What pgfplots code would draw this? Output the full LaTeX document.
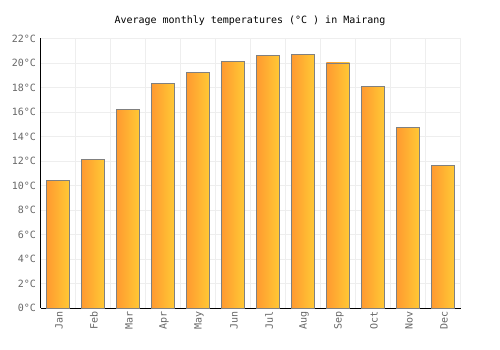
\documentclass[border=0pt]{standalone}
\usepackage{fontspec}
\setmainfont{DejaVu Sans Mono}
\setmonofont{DejaVu Sans Mono}
\usepackage{pgfplots}
\pgfplotsset{compat=1.18}
\definecolor{barL}{HTML}{FF9A30}
\definecolor{barR}{HTML}{FFC935}
\definecolor{gridc}{HTML}{EEEEEE}
\definecolor{labc}{HTML}{666666}
\tikzset{mybar/.style={draw=gray, line width=0.9pt, left color=barL, right color=barR}}
\begin{document}
\begin{tikzpicture}[x=1pt,y=1pt]
\path[use as bounding box] (0,0) rectangle (500,350);
\begin{axis}[
  at={(40.5pt,42pt)}, anchor=south west,
  scale only axis, width=420pt, height=269.5pt,
  xmin=-0.5, xmax=11.5, ymin=0, ymax=22,
  ybar, bar width=23.3pt, bar shift=0pt,
  xtick={0,...,11},
  xticklabels={Jan,Feb,Mar,Apr,May,Jun,Jul,Aug,Sep,Oct,Nov,Dec},
  minor xtick={-0.5,0.5,...,11.5},
  ytick={0,2,...,22},
  xmajorgrids=false, xminorgrids=true, ymajorgrids=true,
  grid style={gridc, line width=0.8pt},
  minor grid style={gridc, line width=0.8pt},
  major tick length=0pt, minor tick length=0pt,
  axis x line*=bottom, axis y line*=left,
  axis line style={black, line width=0.9pt, -},
  /pgf/number format/assume math mode=true,
  yticklabel={\pgfmathprintnumber{\tick}°C},
  ticklabel style={font=\fontsize{10}{12}\selectfont, text=labc},
  yticklabel style={xshift=-1pt},
  xticklabel style={rotate=90, anchor=east, yshift=-1pt},
  clip=false,
]
\addplot[mybar] coordinates {(0,10.4)};
\addplot[mybar] coordinates {(1,12.1)};
\addplot[mybar] coordinates {(2,16.2)};
\addplot[mybar] coordinates {(3,18.3)};
\addplot[mybar] coordinates {(4,19.2)};
\addplot[mybar] coordinates {(5,20.1)};
\addplot[mybar] coordinates {(6,20.6)};
\addplot[mybar] coordinates {(7,20.7)};
\addplot[mybar] coordinates {(8,20.0)};
\addplot[mybar] coordinates {(9,18.1)};
\addplot[mybar] coordinates {(10,14.7)};
\addplot[mybar] coordinates {(11,11.6)};
\end{axis}
\node[font=\fontsize{10}{12}\selectfont, text=black] at (250,329) {Average monthly temperatures (°C ) in Mairang};
\end{tikzpicture}
\end{document}
